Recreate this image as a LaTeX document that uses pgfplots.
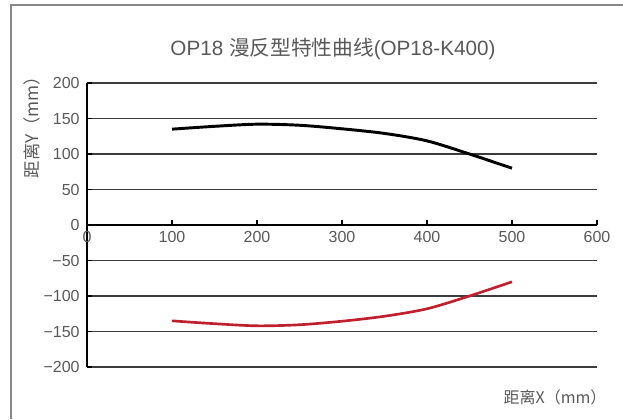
\documentclass[border=0pt]{standalone}
\usepackage{fontspec}
\setmainfont{Liberation Sans}
\newfontfamily\cjk{Noto Sans CJK SC}
\usepackage{pgfplots}
\pgfplotsset{compat=1.18}

\definecolor{txt}{RGB}{89,89,89}
\definecolor{gridc}{RGB}{60,60,60}
\definecolor{framec}{RGB}{135,135,135}
\definecolor{redc}{RGB}{190,32,46}

\begin{document}
\begin{tikzpicture}
    % page = 623x419 px at 0.75pt per px
    \path[use as bounding box] (0,0) rectangle (467.25pt,314.25pt);
    % chart frame (cut at right and bottom in the reference)
    \draw[framec, line width=1.2pt] (8.25pt,0) -- (8.25pt,310.5pt) -- (470pt,310.5pt);

    \begin{axis}[
        at={(65.25pt,39pt)}, anchor=south west,
        width=382.5pt, height=213pt, scale only axis,
        xmin=0, xmax=600, ymin=-200, ymax=200,
        axis x line=middle, axis y line=left,
        axis line style={-, black, line width=0.9pt},
        hide obscured x ticks=false,
        xtick={0,100,...,600},
        ytick={-200,-150,...,200},
        yticklabels={−200,−150,−100,−50,0,50,100,150,200},
        tick align=inside,
        major tick length=4pt,
        tick style={black, line width=0.8pt},
        ymajorgrids,
        grid style={gridc, line width=0.8pt},
        ticklabel style={font=\fontsize{12}{14}\selectfont, text=txt},
        xticklabel style={yshift=-1pt},
        yticklabel style={xshift=-2pt},
        /pgf/number format/assume math mode=true,
        clip=false,
    ]
    \addplot[black, line width=2.2pt, smooth] coordinates {
        (100,135) (150,139) (200,142) (250,140.5) (300,135.5)
        (350,129) (400,118.5) (450,100) (500,80)
    };
    \addplot[redc, line width=2pt, smooth] coordinates {
        (100,-135) (150,-139) (200,-142) (250,-140.5) (300,-135.5)
        (350,-128.5) (400,-118) (450,-100) (500,-80)
    };
    \end{axis}

    \node[text=txt, font=\fontsize{15.5}{18}\selectfont] at (249.75pt,277.5pt)
        {OP18 {\cjk 漫反型特性曲线}(OP18-K400)};
    \node[text=txt, rotate=90, font=\cjk\fontsize{13}{15}\selectfont] at (24pt,222pt)
        {距离Y（mm）};
    \node[text=txt, font=\cjk\fontsize{12}{14}\selectfont] at (416.25pt,16.5pt)
        {距离X（mm）};
\end{tikzpicture}
\end{document}
